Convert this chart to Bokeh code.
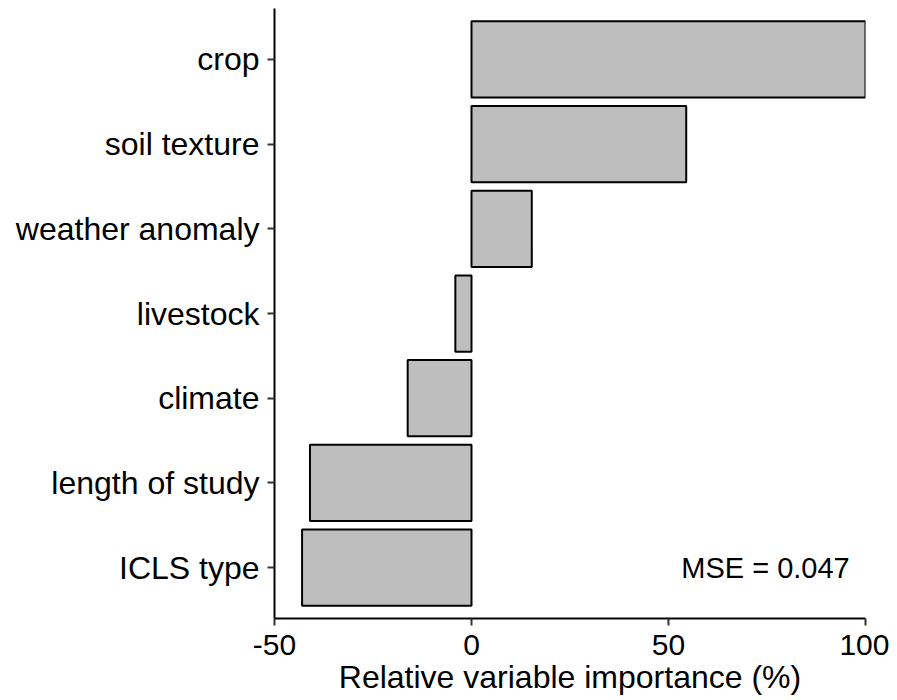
from bokeh.plotting import figure
from bokeh.models import Range1d, FixedTicker, Label, ColumnDataSource
from bokeh.embed import file_html
from bokeh.resources import INLINE

# Data (top to bottom as in the chart)
categories = ["crop", "soil texture", "weather anomaly", "livestock",
              "climate", "length of study", "ICLS type"]
importance = [100, 54.5, 15.3, -4.1, -16.2, -41.0, -43.0]
x_ticks = [-50, 0, 50, 100]
x_tick_labels = ["-50", "0", "50", "100"]
mse_text = "MSE = 0.047"

n = len(categories)
ypos = [n - i for i in range(n)]  # crop at top

src = ColumnDataSource(dict(y=ypos, right=importance, left=[0] * n, cat=categories))

FONT = "Liberation Sans"

p = figure(width=889, height=698, output_backend="svg", toolbar_location=None,
           x_range=Range1d(-50, 100), y_range=Range1d(0.4, n + 0.6),
           min_border_left=274, min_border_right=24, min_border_top=8,
           min_border_bottom=80)

p.hbar(y="y", left="left", right="right", height=0.9, source=src,
       fill_color="#BEBEBE", line_color="black", line_width=2)

p.outline_line_color = None
p.xgrid.visible = False
p.ygrid.visible = False
p.background_fill_color = "white"

# x axis
xa = p.xaxis[0]
xa.ticker = FixedTicker(ticks=x_ticks)
xa.major_label_overrides = {t: s for t, s in zip(x_ticks, x_tick_labels)}
xa.axis_label = "Relative variable importance (%)"
xa.axis_label_text_font = FONT
xa.axis_label_text_font_size = "32px"
xa.axis_label_text_font_style = "normal"
xa.axis_label_text_color = "black"
xa.axis_label_standoff = 1
xa.major_label_text_font = FONT
xa.major_label_text_font_size = "30px"
xa.major_label_text_color = "black"
xa.major_label_standoff = 9
xa.axis_line_width = 2
xa.axis_line_color = "black"
xa.major_tick_line_width = 2
xa.major_tick_line_color = "#333333"
xa.major_tick_out = 7
xa.major_tick_in = 0
xa.minor_tick_line_color = None

# y axis
ya = p.yaxis[0]
ya.ticker = FixedTicker(ticks=ypos)
ya.major_label_overrides = {y: c for y, c in zip(ypos, categories)}
ya.major_label_text_font = FONT
ya.major_label_text_font_size = "32px"
ya.major_label_text_color = "black"
ya.major_label_standoff = 8
ya.axis_line_width = 2
ya.axis_line_color = "black"
ya.major_tick_line_width = 2
ya.major_tick_line_color = "#333333"
ya.major_tick_out = 7
ya.major_tick_in = 0
ya.minor_tick_line_color = None

p.add_layout(Label(x=96, y=ypos[-1], text=mse_text, text_align="right",
                   text_baseline="middle", text_font=FONT,
                   text_font_size="29px", text_color="black"))

open("out.html", "w").write(file_html(p, INLINE))
